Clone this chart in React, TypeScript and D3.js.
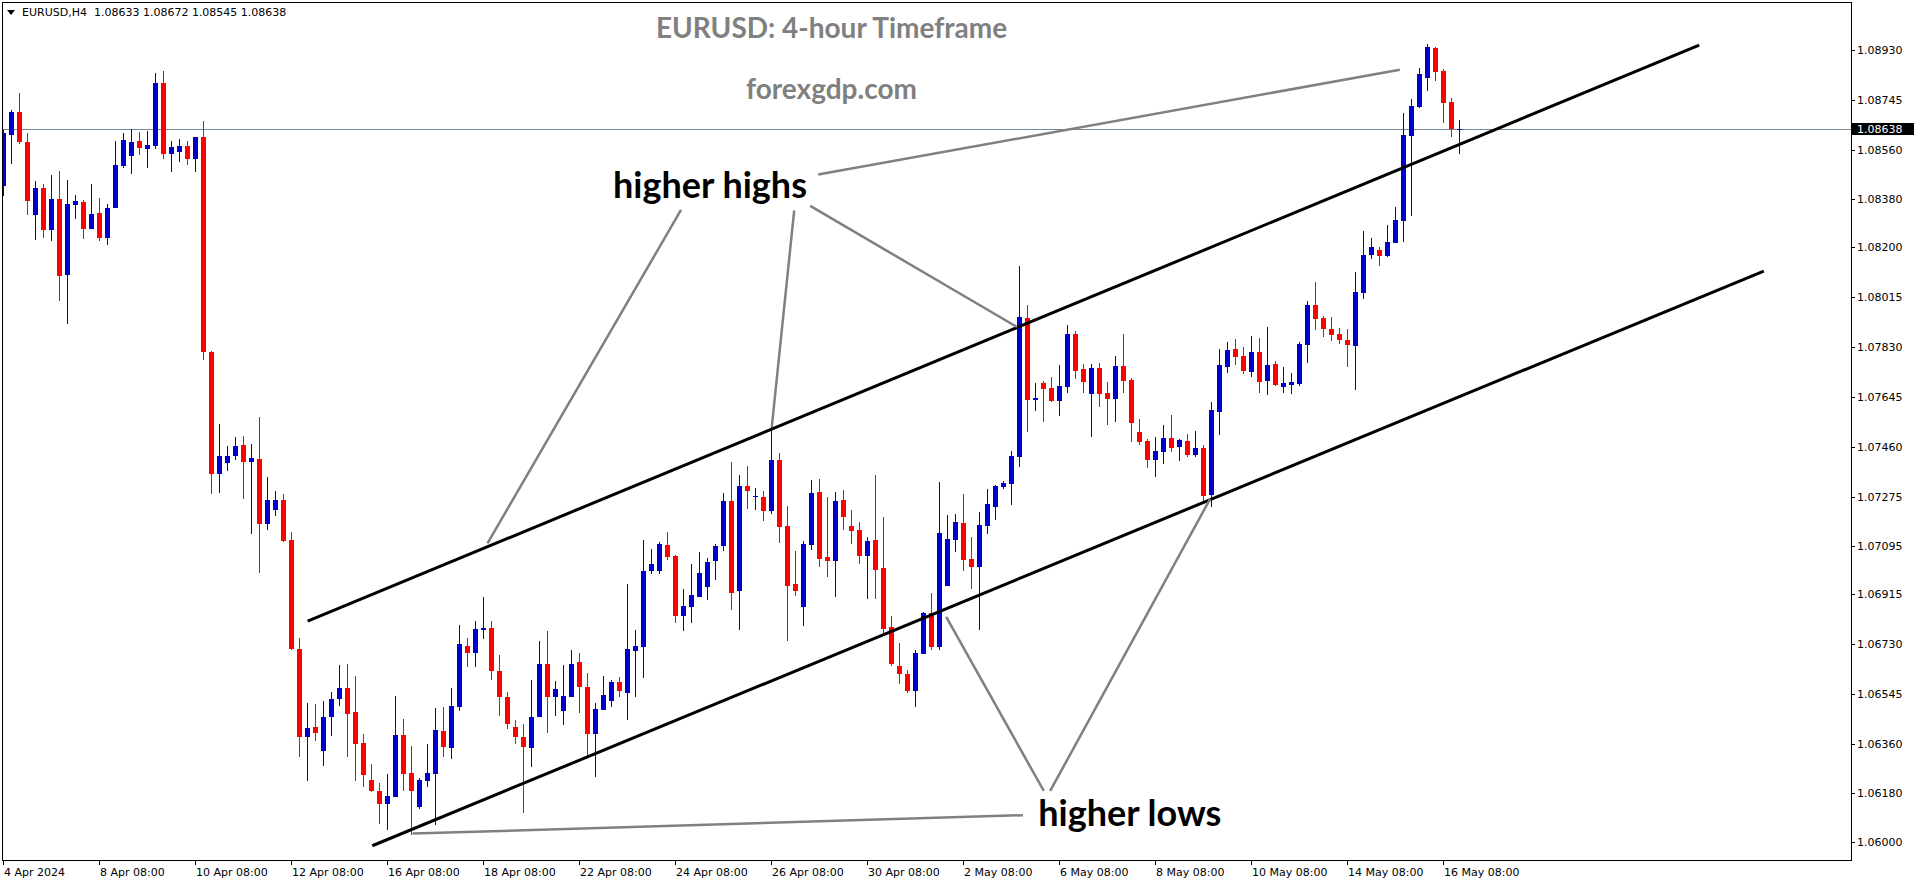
import React from 'react';
import * as d3 from 'd3';

const symbolName = 'EURUSD,H4';
const chartTitle = 'EURUSD: 4-hour Timeframe';
const siteName = 'forexgdp.com';

const opens = [
1.08427,1.08616,1.08702,1.08591,1.08320,1.08421,1.08264,1.08379,1.08098,1.08357,
1.08369,1.08268,1.08327,1.08236,1.08345,1.08501,1.08539,1.08593,1.08565,1.08575,
1.08808,1.08546,1.08554,1.08575,1.08528,1.08608,1.07813,1.07362,1.07403,1.07429,
1.07469,1.07407,1.07417,1.07177,1.07229,1.07265,1.07117,1.06714,1.06386,1.06425,
1.06334,1.06460,1.06529,1.06569,1.06481,1.06366,1.06229,1.06188,1.06141,1.06164,
1.06396,1.06255,1.06130,1.06226,1.06252,1.06410,1.06348,1.06499,1.06725,1.06700,
1.06785,1.06791,1.06632,1.06536,1.06425,1.06388,1.06348,1.06460,1.06659,1.06537,
1.06482,1.06537,1.06666,1.06573,1.06400,1.06488,1.06519,1.06592,1.06552,1.06707,
1.06722,1.07002,1.07002,1.07099,1.07058,1.06837,1.06870,1.06907,1.06944,1.07037,
1.07095,1.07261,1.06926,1.07317,1.07274,1.07276,1.07225,1.07413,1.07169,1.06955,
1.06867,1.07099,1.07295,1.07052,1.07037,1.07265,1.07169,1.07154,1.07059,1.07117,
1.07013,1.06793,1.06651,1.06621,1.06559,1.06696,1.06847,1.06719,1.06948,1.07118,
1.07180,1.07048,1.07015,1.07169,1.07239,1.07313,1.07324,1.07424,1.07938,1.07635,
1.07698,1.07679,1.07631,1.07683,1.07879,1.07750,1.07657,1.07753,1.07661,1.07639,
1.07761,1.07709,1.07517,1.07483,1.07413,1.07443,1.07494,1.07461,1.07483,1.07432,
1.07457,1.07284,1.07591,1.07757,1.07824,1.07798,1.07740,1.07813,1.07706,1.07768,
1.07684,1.07692,1.07695,1.07840,1.07987,1.07938,1.07899,1.07879,1.07857,1.07836,
1.08032,1.08173,1.08190,1.08168,1.08216,1.08298,1.08613,1.08719,1.08828,1.08937,
1.08852,1.08737,1.08633];

const highs = [
1.08634,1.08708,1.08770,1.08624,1.08446,1.08434,1.08468,1.08483,1.08449,1.08394,
1.08375,1.08434,1.08384,1.08360,1.08594,1.08624,1.08639,1.08628,1.08631,1.08845,
1.08852,1.08593,1.08601,1.08593,1.08608,1.08667,1.07816,1.07546,1.07466,1.07496,
1.07503,1.07472,1.07570,1.07350,1.07298,1.07288,1.07146,1.06754,1.06515,1.06510,
1.06521,1.06555,1.06655,1.06659,1.06614,1.06399,1.06288,1.06219,1.06251,1.06540,
1.06455,1.06355,1.06235,1.06362,1.06495,1.06499,1.06569,1.06803,1.06754,1.06815,
1.06906,1.06817,1.06692,1.06555,1.06451,1.06436,1.06599,1.06743,1.06780,1.06593,
1.06655,1.06710,1.06699,1.06626,1.06514,1.06614,1.06599,1.06610,1.06954,1.06784,
1.07117,1.07084,1.07110,1.07147,1.07062,1.06936,1.07028,1.07073,1.07050,1.07102,
1.07291,1.07406,1.07358,1.07391,1.07309,1.07298,1.07535,1.07439,1.07243,1.07076,
1.07113,1.07339,1.07343,1.07276,1.07295,1.07302,1.07228,1.07184,1.07128,1.07358,
1.07202,1.06836,1.06736,1.06636,1.06710,1.06851,1.06921,1.07332,1.07210,1.07213,
1.07287,1.07128,1.07221,1.07306,1.07321,1.07335,1.07446,1.08131,1.07987,1.07698,
1.07705,1.07720,1.07765,1.07913,1.07890,1.07768,1.07768,1.07772,1.07702,1.07798,
1.07879,1.07716,1.07565,1.07491,1.07498,1.07543,1.07580,1.07491,1.07509,1.07520,
1.07469,1.07628,1.07824,1.07850,1.07861,1.07831,1.07872,1.07864,1.07905,1.07779,
1.07758,1.07736,1.07850,1.08001,1.08072,1.07946,1.07942,1.07901,1.07898,1.08109,
1.08260,1.08234,1.08201,1.08283,1.08349,1.08697,1.08749,1.08863,1.08952,1.08941,
1.08860,1.08752,1.08672];

const lows = [
1.08390,1.08508,1.08582,1.08320,1.08227,1.08236,1.08223,1.08002,1.07916,1.08305,
1.08231,1.08268,1.08223,1.08209,1.08345,1.08493,1.08471,1.08542,1.08493,1.08564,
1.08527,1.08480,1.08517,1.08506,1.08480,1.07783,1.07288,1.07292,1.07373,1.07414,
1.07270,1.07137,1.06996,1.07155,1.07207,1.07111,1.06710,1.06315,1.06226,1.06373,
1.06282,1.06393,1.06504,1.06312,1.06223,1.06204,1.06184,1.06064,1.06044,1.06164,
1.06189,1.06026,1.06120,1.06204,1.06063,1.06315,1.06307,1.06482,1.06645,1.06648,
1.06752,1.06600,1.06467,1.06417,1.06363,1.06108,1.06275,1.06460,1.06404,1.06466,
1.06433,1.06537,1.06478,1.06312,1.06241,1.06488,1.06500,1.06537,1.06451,1.06534,
1.06604,1.06991,1.06991,1.07043,1.06811,1.06781,1.06811,1.06907,1.06896,1.06969,
1.07077,1.06859,1.06785,1.07233,1.07229,1.07188,1.07214,1.07107,1.06741,1.06911,
1.06800,1.07080,1.07015,1.06978,1.06904,1.07155,1.07103,1.07026,1.06900,1.06900,
1.06770,1.06652,1.06582,1.06552,1.06497,1.06696,1.06711,1.06711,1.06948,1.07074,
1.07000,1.06937,1.06784,1.07139,1.07191,1.07306,1.07247,1.07387,1.07517,1.07594,
1.07554,1.07628,1.07576,1.07661,1.07713,1.07661,1.07498,1.07609,1.07543,1.07554,
1.07661,1.07480,1.07469,1.07383,1.07350,1.07398,1.07443,1.07409,1.07424,1.07424,
1.07261,1.07239,1.07506,1.07735,1.07765,1.07732,1.07718,1.07662,1.07654,1.07688,
1.07662,1.07658,1.07688,1.07773,1.07895,1.07869,1.07854,1.07843,1.07755,1.07673,
1.08010,1.08158,1.08131,1.08164,1.08216,1.08221,1.08317,1.08715,1.08779,1.08816,
1.08661,1.08609,1.08545];

const closes = [
1.08624,1.08702,1.08591,1.08372,1.08421,1.08264,1.08379,1.08094,1.08360,1.08372,
1.08268,1.08323,1.08236,1.08345,1.08505,1.08597,1.08590,1.08567,1.08579,1.08808,
1.08546,1.08570,1.08575,1.08528,1.08608,1.07812,1.07362,1.07429,1.07429,1.07466,
1.07407,1.07420,1.07177,1.07265,1.07265,1.07114,1.06714,1.06386,1.06421,1.06404,
1.06462,1.06529,1.06569,1.06474,1.06363,1.06245,1.06189,1.06141,1.06170,1.06396,
1.06252,1.06189,1.06229,1.06255,1.06414,1.06352,1.06503,1.06732,1.06700,1.06788,
1.06791,1.06630,1.06537,1.06437,1.06389,1.06352,1.06462,1.06659,1.06537,1.06566,
1.06540,1.06659,1.06571,1.06400,1.06492,1.06544,1.06592,1.06556,1.06714,1.06725,
1.07002,1.07028,1.07102,1.07055,1.06837,1.06873,1.06914,1.06995,1.07036,1.07095,
1.07261,1.06922,1.07317,1.07299,1.07280,1.07225,1.07413,1.07166,1.06948,1.06926,
1.07102,1.07291,1.07048,1.07037,1.07261,1.07200,1.07151,1.07059,1.07113,1.07007,
1.06789,1.06659,1.06619,1.06559,1.06699,1.06847,1.06719,1.07143,1.07121,1.07184,
1.07044,1.07015,1.07173,1.07250,1.07317,1.07328,1.07428,1.07942,1.07635,1.07642,
1.07676,1.07631,1.07687,1.07879,1.07742,1.07702,1.07753,1.07657,1.07639,1.07761,
1.07705,1.07550,1.07480,1.07413,1.07446,1.07494,1.07457,1.07487,1.07432,1.07457,
1.07280,1.07598,1.07765,1.07820,1.07794,1.07743,1.07813,1.07703,1.07765,1.07692,
1.07698,1.07702,1.07842,1.07987,1.07936,1.07899,1.07877,1.07858,1.07840,1.08035,
1.08172,1.08201,1.08168,1.08220,1.08301,1.08616,1.08723,1.08841,1.08941,1.08850,
1.08735,1.08637,1.08638];

const priceTicks = [1.0893, 1.08745, 1.0856, 1.0838, 1.082, 1.08015, 1.0783, 1.07645, 1.0746,
  1.07275, 1.07095, 1.06915, 1.0673, 1.06545, 1.0636, 1.0618, 1.06];

const timeTickBars = [0, 12, 24, 36, 48, 60, 72, 84, 96, 108, 120, 132, 144, 156, 168, 180];
const timeTickLabels = ['4 Apr 2024', '8 Apr 08:00', '10 Apr 08:00', '12 Apr 08:00', '16 Apr 08:00',
  '18 Apr 08:00', '22 Apr 08:00', '24 Apr 08:00', '26 Apr 08:00', '30 Apr 08:00', '2 May 08:00',
  '6 May 08:00', '8 May 08:00', '10 May 08:00', '14 May 08:00', '16 May 08:00'];

// channel lines: [barIndex, price]
const upperChannel: [number, number][] = [[38.08, 1.06816], [212.03, 1.08948]];
const lowerChannel: [number, number][] = [[46.16, 1.05985], [220.1, 1.08112]];

const highPointers: [number, number][][] = [
  [[101.9, 1.08469], [174.6, 1.08857]],
  [[84.75, 1.08338], [60.56, 1.07104]],
  [[98.9, 1.08336], [96.1, 1.07535]],
  [[100.9, 1.08353], [126.75, 1.07905]],
];
const lowPointers: [number, number][][] = [
  [[130.1, 1.06188], [117.9, 1.06832]],
  [[130.9, 1.06188], [150.9, 1.07269]],
  [[127.5, 1.06098], [51.2, 1.0603]],
];
const labelHighs = { text: 'higher highs', bar: 76.25, price: 1.08382 };
const labelLows = { text: 'higher lows', bar: 129.4, price: 1.06059 };

export default function App() {
  const W = 1914, H = 884;
  const plotL = 2, plotT = 2, plotR = 1851, plotB = 860;
  const n = closes.length;
  const x = d3.scaleLinear().domain([0, n - 1]).range([3, 3 + 8 * (n - 1)]);
  const y = d3.scaleLinear().domain([1.06, 1.0893]).range([841.7, 50]);
  const line = d3.line<[number, number]>().x(d => x(d[0])).y(d => y(d[1]));
  const axisFont = "'DejaVu Sans', Verdana, sans-serif";
  const last = n - 1;
  const header = `${symbolName}  ${opens[last].toFixed(5)} ${highs[last].toFixed(5)} ${lows[last].toFixed(5)} ${closes[last].toFixed(5)}`;
  const cur = closes[last];

  return (
    <svg width={W} height={H} style={{ position: 'absolute', left: 0, top: 0, background: '#fff' }}
      xmlns="http://www.w3.org/2000/svg">
      <rect x={0} y={0} width={W} height={H} fill="#fff" />
      <defs>
        <clipPath id="plotClip">
          <rect x={plotL} y={plotT} width={plotR - plotL} height={plotB - plotT} />
        </clipPath>
      </defs>
      {/* current price line */}
      <line x1={plotL} x2={plotR} y1={Math.round(y(cur)) + 0.5} y2={Math.round(y(cur)) + 0.5}
        stroke="#778899" strokeWidth={1} />
      {/* candles */}
      <g clipPath="url(#plotClip)" shapeRendering="crispEdges">
        {closes.map((c, i) => {
          const o = opens[i];
          const up = c >= o;
          const col = up ? '#0000cd' : '#ff0000';
          const cx = Math.round(x(i));
          const yh = Math.round(y(highs[i]));
          const yl = Math.round(y(lows[i]));
          const yt = Math.round(y(Math.max(o, c)));
          const yb = Math.round(y(Math.min(o, c)));
          return (
            <g key={i}>
              <rect x={cx} y={yh} width={1} height={Math.max(1, yl - yh)} fill={col} />
              <rect x={cx - 2} y={yt} width={5} height={Math.max(1, yb - yt)} fill={col} />
            </g>
          );
        })}
      </g>
      {/* channel lines */}
      <g clipPath="url(#plotClip)">
        <path d={line(upperChannel) || ''} stroke="#000" strokeWidth={3} fill="none" />
        <path d={line(lowerChannel) || ''} stroke="#000" strokeWidth={3} fill="none" />
        {highPointers.concat(lowPointers).map((p, i) => (
          <path key={i} d={line(p) || ''} stroke="#808080" strokeWidth={2.5} fill="none" />
        ))}
      </g>
      {/* annotation text */}
      <text x={x(labelHighs.bar)} y={y(labelHighs.price)} fontFamily="Lato, 'Open Sans', sans-serif"
        fontWeight={700} fontSize={36} fill="#000">{labelHighs.text}</text>
      <text x={x(labelLows.bar)} y={y(labelLows.price)} fontFamily="Lato, 'Open Sans', sans-serif"
        fontWeight={700} fontSize={36} fill="#000">{labelLows.text}</text>
      <text x={831.5} y={38} textAnchor="middle" fontFamily="Lato, 'Open Sans', sans-serif"
        fontWeight={700} fontSize={28} fill="#808080">{chartTitle}</text>
      <text x={831.5} y={99} textAnchor="middle" fontFamily="Lato, 'Open Sans', sans-serif"
        fontWeight={700} fontSize={28} fill="#808080">{siteName}</text>
      {/* frame */}
      <rect x={plotL + 0.5} y={plotT + 0.5} width={plotR - plotL} height={plotB - plotT}
        fill="none" stroke="#000" strokeWidth={1} shapeRendering="crispEdges" />
      {/* header */}
      <path d="M7,10 L15,10 L11,15 Z" fill="#000" />
      <text x={22} y={16} fontFamily={axisFont} fontSize={11} fill="#000" style={{ whiteSpace: 'pre' }}>{header}</text>
      {/* price axis */}
      <g shapeRendering="crispEdges">
        {priceTicks.map((p, i) => (
          <line key={i} x1={plotR} x2={plotR + 4} y1={Math.round(y(p)) + 0.5} y2={Math.round(y(p)) + 0.5} stroke="#000" />
        ))}
      </g>
      {priceTicks.map((p, i) => (
        <text key={i} x={plotR + 6} y={y(p) + 4} fontFamily={axisFont} fontSize={11} fill="#000">{p.toFixed(5)}</text>
      ))}
      <rect x={plotR + 1} y={Math.round(y(cur)) - 6} width={W - plotR - 1} height={12} fill="#000" />
      <text x={plotR + 6} y={y(cur) + 4} fontFamily={axisFont} fontSize={11} fill="#fff">{cur.toFixed(5)}</text>
      {/* time axis */}
      <g shapeRendering="crispEdges">
        {timeTickBars.map((b, i) => (
          <line key={i} x1={Math.round(x(b)) + 0.5} x2={Math.round(x(b)) + 0.5} y1={plotB} y2={plotB + 5} stroke="#000" />
        ))}
      </g>
      {timeTickBars.map((b, i) => (
        <text key={i} x={Math.round(x(b)) + 1} y={876} fontFamily={axisFont} fontSize={11} fill="#000">{timeTickLabels[i]}</text>
      ))}
    </svg>
  );
}
